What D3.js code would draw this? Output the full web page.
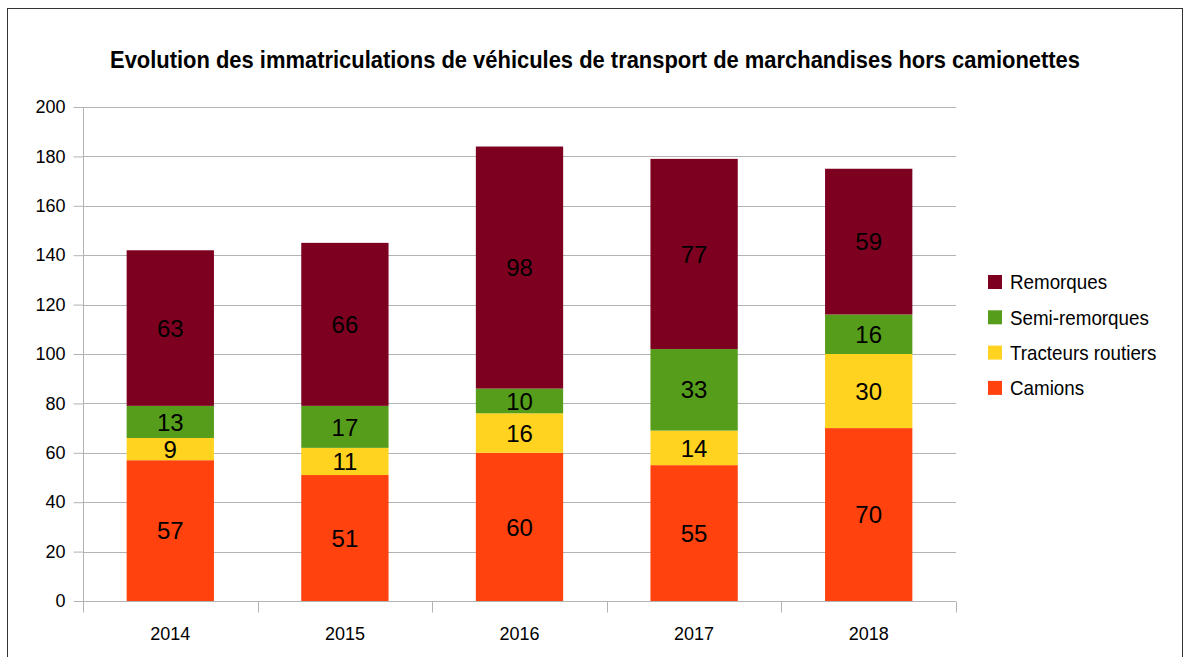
<!DOCTYPE html>
<html>
<head>
<meta charset="utf-8">
<script src="https://cdn.jsdelivr.net/npm/d3@7/dist/d3.min.js"></script>
<style>
  body { margin: 0; background: #fff; }
  text { font-family: "Liberation Sans Narrow", "Liberation Sans", sans-serif; }
</style>
</head>
<body>
<div id="chart"></div>
<script>
// data
const years = ["2014", "2015", "2016", "2017", "2018"];
const seriesNames = ["Camions", "Tracteurs routiers", "Semi-remorques", "Remorques"];
const camions = [57, 51, 60, 55, 70];
const tracteurs = [9, 11, 16, 14, 30];
const semiRemorques = [13, 17, 10, 33, 16];
const remorques = [63, 66, 98, 77, 59];
const yTicks = [0, 20, 40, 60, 80, 100, 120, 140, 160, 180, 200];
const colors = ["#ff420e", "#ffd320", "#579d1c", "#7e0021"];

const width = 1190, height = 657;
const plotLeft = 83, plotRight = 956, plotTop = 107, plotBottom = 601;

const svg = d3.select("#chart").append("svg")
    .attr("width", width)
    .attr("height", height);

// frame
svg.append("rect")
   .attr("x", 7.5).attr("y", 8.5)
   .attr("width", 1175).attr("height", 700)
   .attr("fill", "none")
   .attr("stroke", "#333")
   .attr("stroke-width", 1);

// title (narrow look, squeezed to the reference width)
svg.append("text")
   .attr("x", 110).attr("y", 68)
   .attr("font-size", 24)
   .attr("font-weight", "bold")
   .attr("textLength", 970)
   .attr("lengthAdjust", "spacingAndGlyphs")
   .text("Evolution des immatriculations de véhicules de transport de marchandises hors camionettes");

const xScale = d3.scaleBand().domain(years).range([plotLeft, plotRight]).paddingInner(0.5).paddingOuter(0.25);
const xGrid = d3.scaleBand().domain(years).range([plotLeft, plotRight]);
const yScale = d3.scaleLinear().domain([0, 200]).range([plotBottom, plotTop]);

// grid lines
svg.append("g").selectAll("line")
   .data(yTicks)
   .enter().append("line")
   .attr("x1", plotLeft).attr("x2", plotRight)
   .attr("y1", d => Math.round(yScale(d)) + 0.5)
   .attr("y2", d => Math.round(yScale(d)) + 0.5)
   .attr("stroke", "#b3b3b3");

// stacked data
const table = years.map((y, i) => ({
  year: y,
  "Camions": camions[i],
  "Tracteurs routiers": tracteurs[i],
  "Semi-remorques": semiRemorques[i],
  "Remorques": remorques[i]
}));
const stacked = d3.stack().keys(seriesNames)(table);

const layers = svg.append("g").selectAll("g")
   .data(stacked)
   .enter().append("g")
   .attr("fill", (d, i) => colors[i]);

layers.selectAll("rect")
   .data(d => d)
   .enter().append("rect")
   .attr("x", d => xScale(d.data.year))
   .attr("width", xScale.bandwidth())
   .attr("y", d => yScale(d[1]))
   .attr("height", d => yScale(d[0]) - yScale(d[1]));

layers.selectAll("text")
   .data(d => d)
   .enter().append("text")
   .attr("x", d => xScale(d.data.year) + xScale.bandwidth() / 2)
   .attr("y", d => (yScale(d[0]) + yScale(d[1])) / 2)
   .attr("dy", "0.36em")
   .attr("text-anchor", "middle")
   .attr("fill", "#000")
   .style("font-family", "'Liberation Sans', sans-serif")
   .attr("font-size", 24)
   .text(d => d[1] - d[0]);

// y axis
const yAxis = d3.axisLeft(yScale).tickValues(yTicks).tickSize(10).tickPadding(8);
const yg = svg.append("g")
   .attr("transform", `translate(${plotLeft + 0.5},0)`)
   .call(yAxis);
yg.select(".domain").attr("stroke", "#b3b3b3").attr("d", `M0,${plotTop}V${plotBottom}`);
yg.selectAll(".tick line").attr("stroke", "#b3b3b3");
yg.selectAll(".tick text").attr("font-size", 18).attr("fill", "#000")
   .style("font-family", "'Liberation Sans Narrow', 'Liberation Sans', sans-serif");

// x axis
const xg = svg.append("g")
   .attr("transform", `translate(0,${Math.round(plotBottom) + 0.5})`);
xg.append("line").attr("x1", plotLeft).attr("x2", plotRight).attr("stroke", "#b3b3b3");
xg.selectAll("line.sep")
   .data(years.concat(["end"]))
   .enter().append("line")
   .attr("class", "sep")
   .attr("x1", (d, i) => Math.round(i < years.length ? xGrid(d) : plotRight) + 0.5)
   .attr("x2", (d, i) => Math.round(i < years.length ? xGrid(d) : plotRight) + 0.5)
   .attr("y1", 0).attr("y2", 11)
   .attr("stroke", "#b3b3b3");
xg.selectAll("text")
   .data(years)
   .enter().append("text")
   .attr("x", d => xGrid(d) + xGrid.bandwidth() / 2)
   .attr("y", 38)
   .attr("text-anchor", "middle")
   .attr("font-size", 18)
   .text(d => d);

// legend (top to bottom: Remorques first)
const legend = svg.append("g").selectAll("g")
   .data(seriesNames.slice().reverse())
   .enter().append("g")
   .attr("transform", (d, i) => `translate(988, ${282 + i * 35.3})`);
legend.append("rect")
   .attr("x", 0).attr("y", -7)
   .attr("width", 14).attr("height", 14)
   .attr("fill", d => colors[seriesNames.indexOf(d)]);
legend.append("text")
   .attr("transform", "translate(22,0) scale(0.94,1)")
   .attr("dy", "0.36em")
   .attr("font-size", 20)
   .text(d => d);
</script>
</body>
</html>
